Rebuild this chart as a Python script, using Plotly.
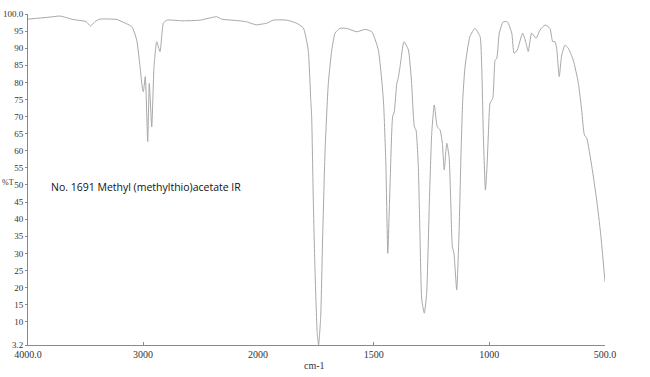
import plotly.graph_objects as go

# Wavenumbers (cm-1) and transmittance (%T)
wavenumber = [4000, 3809, 3722, 3609, 3548, 3496, 3455, 3417, 3374, 3226, 3200, 3098, 3055, 3026,
              3003, 2997, 2980, 2959, 2945, 2924, 2904, 2881, 2852, 2823, 2794, 2652, 2504, 2359,
              2316, 2156, 2098, 2011, 1962, 1934, 1876, 1833, 1804, 1783, 1772, 1768, 1761, 1754,
              1744, 1738, 1729, 1720, 1710, 1696, 1681, 1667, 1646, 1617, 1573, 1537, 1508, 1480,
              1458, 1447, 1439, 1429, 1418, 1411, 1400, 1394, 1386, 1369, 1350, 1336, 1324, 1317,
              1307, 1300, 1292, 1281, 1271, 1259, 1249, 1238, 1225, 1213, 1203, 1195, 1184, 1174,
              1167, 1160, 1153, 1141, 1131, 1122, 1115, 1105, 1084, 1062, 1040, 1033, 1026, 1017,
              1010, 1004, 997, 985, 975, 968, 957, 940, 922, 903, 893, 879, 856, 841, 832, 817,
              798, 781, 759, 738, 726, 716, 709, 698, 687, 673, 659, 637, 615, 601, 589, 579, 557,
              536, 519, 500]
transmittance = [98.5, 99.1, 99.4, 98.4, 98.1, 97.8, 96.5, 97.8, 98.5, 98.4, 98.0, 96.3, 92.4, 84.6,
                 77.8, 77.3, 81.7, 62.7, 79.7, 67.0, 84.6, 91.9, 89.0, 97.3, 98.2, 98.0, 98.2, 99.2,
                 98.5, 98.0, 97.7, 96.8, 97.3, 98.2, 98.2, 97.3, 95.9, 89.5, 74.9, 70.0, 45.6, 26.1,
                 6.6, 3.2, 11.5, 36.0, 60.2, 79.7, 89.5, 94.4, 95.8, 95.8, 94.8, 95.5, 94.8, 89.5,
                 74.9, 55.4, 30.0, 50.5, 70.0, 71.4, 79.7, 81.2, 84.6, 91.9, 89.5, 79.7, 67.0, 66.1,
                 55.4, 35.9, 16.4, 12.5, 18.3, 45.6, 65.1, 73.4, 67.0, 66.1, 62.2, 54.4, 62.2, 58.3,
                 45.6, 32.0, 30.0, 19.3, 35.9, 60.2, 74.9, 84.6, 93.4, 95.8, 93.4, 84.6, 65.1, 48.5,
                 55.4, 65.1, 73.9, 75.4, 86.5, 87.0, 94.4, 97.7, 97.7, 94.4, 88.5, 89.5, 94.4, 91.4,
                 89.0, 94.4, 92.9, 95.3, 96.8, 95.8, 91.9, 91.9, 90.0, 81.7, 88.0, 90.9, 90.0, 86.5,
                 79.7, 71.9, 64.6, 63.7, 55.4, 45.6, 35.9, 21.7]

y_tickvals = [3.2, 10, 15, 20, 25, 30, 35, 40, 45, 50, 55, 60, 65, 70, 75, 80, 85, 90, 95, 100]
y_ticktext = ["3.2", "10", "15", "20", "25", "30", "35", "40", "45", "50", "55", "60", "65",
              "70", "75", "80", "85", "90", "95", "100.0"]
x1_tickvals = [4000, 3000]
x1_ticktext = ["4000.0", "3000"]
x2_tickvals = [2000, 1500, 1000, 500]
x2_ticktext = ["2000", "1500", "1000", "500.0"]

title_text = "No. 1691 Methyl (methylthio)acetate IR"

# split at 2000 cm-1 (the instrument plots 4000-2000 at half scale)
hi = [(w, t) for w, t in zip(wavenumber, transmittance) if w >= 1962]
lo = [(w, t) for w, t in zip(wavenumber, transmittance) if w <= 2011]

line_style = dict(color="#a8a8a8", width=1, shape="spline", smoothing=0.5)

fig = go.Figure()
fig.add_trace(go.Scatter(x=[p[0] for p in hi], y=[p[1] for p in hi], mode="lines",
                         line=line_style, xaxis="x", yaxis="y", showlegend=False))
fig.add_trace(go.Scatter(x=[p[0] for p in lo], y=[p[1] for p in lo], mode="lines",
                         line=line_style, xaxis="x2", yaxis="y", showlegend=False))

split = 230 / 577
serif = dict(family="Liberation Serif", size=10, color="#333333")
axis_common = dict(showgrid=False, zeroline=False, showline=True, linecolor="#8a8a8a",
                   linewidth=1, ticks="inside", ticklen=3, tickcolor="#8a8a8a",
                   tickfont=serif, tickmode="array", fixedrange=True, automargin=False)

fig.update_layout(
    width=650, height=377,
    margin=dict(l=28, r=45, t=14, b=32, autoexpand=False),
    paper_bgcolor="white", plot_bgcolor="white",
    xaxis=dict(domain=[0, split], range=[4000, 2000], tickvals=x1_tickvals,
               ticktext=x1_ticktext, anchor="y", **axis_common),
    xaxis2=dict(domain=[split, 1], range=[2000, 500], tickvals=x2_tickvals,
                ticktext=x2_ticktext, anchor="y", **axis_common),
    yaxis=dict(range=[3.2, 100], tickvals=y_tickvals, ticktext=y_ticktext,
               showgrid=False, zeroline=False, showline=True, linecolor="#8a8a8a",
               linewidth=1, ticks="outside", ticklen=2, tickcolor="#8a8a8a",
               tickfont=dict(family="Liberation Serif", size=9, color="#333333"),
               anchor="x", fixedrange=True, automargin=False),
    annotations=[
        dict(text=title_text, xref="paper", yref="paper", x=0.0364, y=0.477,
             xanchor="left", yanchor="middle", showarrow=False,
             font=dict(family="Open Sans", size=10.5, color="#111111")),
        dict(text="cm-1", xref="paper", yref="paper", x=0.4974, y=-0.0634,
             xanchor="center", yanchor="middle", showarrow=False, font=serif),
        dict(text="%T", xref="paper", yref="paper", x=-0.0485, y=0.4924,
             xanchor="left", yanchor="middle", showarrow=False,
             font=dict(family="Liberation Serif", size=8, color="#333333")),
    ],
)

fig.write_html("out.html", config={"displayModeBar": False},
               post_script="document.body.style.margin='0px';")
